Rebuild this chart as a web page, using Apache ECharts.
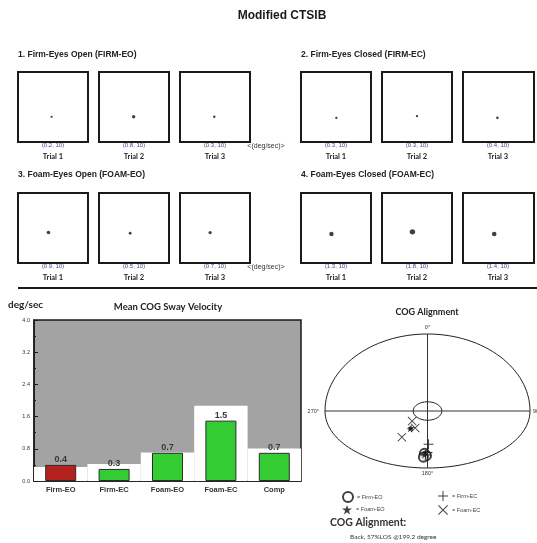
<!DOCTYPE html>
<html>
<head>
<meta charset="utf-8">
<script src="https://cdn.jsdelivr.net/npm/echarts@6/dist/echarts.min.js"></script>
<style>
  html, body { margin: 0; padding: 0; background: #fff; }
  #c { width: 537px; height: 543px; }
</style>
</head>
<body>
<div id="c"></div>
<script>
// ---- test conditions and results ----
const conditions = ['Firm-EO', 'Firm-EC', 'Foam-EO', 'Foam-EC', 'Comp'];
const conditionTitles = [
  '1. Firm-Eyes Open (FIRM-EO)',
  '2. Firm-Eyes Closed (FIRM-EC)',
  '3. Foam-Eyes Open (FOAM-EO)',
  '4. Foam-Eyes Closed (FOAM-EC)'
];
const trialLabels = ['Trial 1', 'Trial 2', 'Trial 3'];
// sway velocity (deg/sec) and trial duration (sec) for each trial
const trialVelocity = [[0.2, 0.8, 0.3], [0.3, 0.3, 0.4], [0.9, 0.5, 0.7], [1.3, 1.8, 1.4]];
const trialSeconds = [[10, 10, 10], [10, 10, 10], [10, 10, 10], [10, 10, 10]];
// mean centre-of-gravity position of each trial (deg)
const swayX = [[-0.4, -0.1, -0.2], [0.1, 0.0, -0.3], [-1.3, -1.1, -1.4], [-1.3, -1.3, -1.2]];
const swayY = [[-2.8, -2.8, -2.8], [-3.1, -2.6, -3.1], [-1.3, -1.5, -1.3], [-1.7, -1.1, -1.7]];
// mean sway velocity per condition and the normal limit above which it is flagged
const meanVelocity = [0.4, 0.3, 0.7, 1.5, 0.7];
const normalLimit = [0.35, 0.42, 0.71, 1.87, 0.81];
// COG alignment (%LOS: x = right, y = forward) for each trial
const cogFirmEO = [[-3, -55], [-1, -58], [-4, -60]];
const cogFirmEC = [[1, -43], [0, -54], [-2, -57]];
const cogFoamEO = [[-17, -23], [-16, -22], [-3, -57]];
const cogFoamEC = [[-15, -13], [-12, -22], [-25, -34]];
const alignmentSummary = 'Back, 57%LOS @199.2 degree';

// ---- drawing ----
const FONT_A = '"Liberation Sans", Arial, sans-serif';
const FONT_B = 'Lato, "Liberation Sans", sans-serif';
const INK = '#1a1a1a';

const grids = [], xAxes = [], yAxes = [], series = [], graphics = [];

function label(text, x, y, opts) {
  graphics.push({
    type: 'text', x: x, y: y, silent: true,
    style: Object.assign({
      text: text, fill: INK, fontFamily: FONT_A, fontSize: 9,
      align: 'left', verticalAlign: 'middle'
    }, opts || {})
  });
}

// page title and divider
label('Modified CTSIB', 282, 16, { fontSize: 12, fontWeight: 'bold', align: 'center' });
graphics.push({ type: 'line', silent: true, shape: { x1: 18, y1: 288, x2: 537, y2: 288 },
  style: { stroke: INK, lineWidth: 2 } });

// stabilogram boxes, three trials per condition
const panelLeft = [18, 301];
const boxOffset = [0, 81, 162];
const rowTop = [72, 193];
const rowTitleY = [55, 175];
const BOX = 70;

trialVelocity.forEach(function (vals, ci) {
  const row = Math.floor(ci / 2), col = ci % 2;
  label(conditionTitles[ci], panelLeft[col], rowTitleY[row], { fontSize: 8.5, fontWeight: 'bold', fill: '#222' });
  vals.forEach(function (v, ti) {
    const g = grids.length;
    const left = panelLeft[col] + boxOffset[ti];
    const top = rowTop[row];
    grids.push({ left: left, top: top, width: BOX + (col && ti === 2 ? 1 : 0), height: BOX, show: true,
      backgroundColor: '#fff', borderColor: INK, borderWidth: 2 });
    xAxes.push({ gridIndex: g, type: 'value', min: -10, max: 10, show: false });
    yAxes.push({ gridIndex: g, type: 'value', min: -10, max: 10, show: false });
    series.push({
      type: 'scatter', xAxisIndex: g, yAxisIndex: g, silent: true,
      data: [[swayX[ci][ti], swayY[ci][ti]]],
      symbolSize: 1.8 + 2 * v,
      itemStyle: { color: '#111' }
    });
    const cx = left + BOX / 2;
    label('(' + v.toFixed(1) + ', ' + trialSeconds[ci][ti] + ')', cx, top + BOX + 3,
      { fontSize: 6, fill: '#3d4d8a', align: 'center' });
    label(trialLabels[ti], cx, top + BOX + 15, { fontSize: 7.5, fontWeight: 'bold', fontFamily: FONT_B, align: 'center', fill: '#222' });
  });
  if (col === 0) {
    label('<(deg/sec)>', 266, rowTop[row] + BOX + 4, { fontSize: 7, align: 'center', fill: '#333' });
  }
});

// ---- mean COG sway velocity bar chart ----
const gBar = grids.length;
grids.push({ left: 34, top: 320, width: 267, height: 161, show: true,
  backgroundColor: '#a3a3a3', borderColor: INK, borderWidth: 1.5 });
const xBar = xAxes.length;
xAxes.push({
  gridIndex: gBar, type: 'category', data: conditions,
  axisLine: { lineStyle: { color: INK, width: 1.5 } },
  axisTick: { alignWithLabel: true, length: 3, lineStyle: { color: INK } },
  axisLabel: { fontSize: 7.5, fontWeight: 'bold', color: '#333', margin: 5, fontFamily: FONT_A }
});
const xLimit = xAxes.length;
xAxes.push({ gridIndex: gBar, type: 'category', data: conditions, show: false });
const yBar = yAxes.length;
yAxes.push({
  gridIndex: gBar, type: 'value', min: 0, max: 4, interval: 0.8,
  axisLine: { show: true, lineStyle: { color: INK, width: 1.5 } },
  axisTick: { show: true, inside: true, length: 4, lineStyle: { color: INK } },
  minorTick: { show: true, splitNumber: 2, length: 2, lineStyle: { color: INK } },
  splitLine: { show: false },
  axisLabel: { fontSize: 5.5, color: '#333', margin: 4, fontFamily: FONT_A,
    formatter: function (v) { return v.toFixed(1); } }
});
series.push({
  type: 'bar', xAxisIndex: xLimit, yAxisIndex: yBar, silent: true, z: 1,
  data: normalLimit, barWidth: '100%', itemStyle: { color: '#fff' }
});
series.push({
  type: 'bar', xAxisIndex: xBar, yAxisIndex: yBar, silent: true, z: 3,
  barWidth: 31,
  data: meanVelocity.map(function (v, i) {
    return { value: v, itemStyle: { color: v > normalLimit[i] ? '#b3221e' : '#33cc33' } };
  }),
  itemStyle: { borderColor: '#2b2b2b', borderWidth: 1 },
  label: { show: true, position: 'top', distance: 1, fontSize: 9, fontWeight: 'bold', color: '#3a3a3a',
    fontFamily: FONT_A, formatter: function (p) { return p.value.toFixed(1); } }
});
label('deg/sec', 8, 305, { fontSize: 10, fontWeight: 'bold', fontFamily: FONT_B, fill: '#222' });
label('Mean COG Sway Velocity', 168, 307, { fontSize: 9.5, fontWeight: 'bold', fontFamily: FONT_B, align: 'center', fill: '#222' });

// ---- COG alignment plot ----
const LOS_SIDE = 100, LOS_FWD = 100, LOS_BACK = 74;
const gCog = grids.length;
grids.push({ left: 325, top: 334, width: 205, height: 134 });
const xCog = xAxes.length;
xAxes.push({ gridIndex: gCog, type: 'value', min: -LOS_SIDE, max: LOS_SIDE, show: false });
const yCog = yAxes.length;
yAxes.push({ gridIndex: gCog, type: 'value', min: -LOS_BACK, max: LOS_FWD, show: false });

const K = 0.5523;
function ellipseCurves(cx, cy, rx, ryTop, ryBottom, style) {
  return [
    [cx + rx, cy, cx, cy - ryTop, cx + rx, cy - K * ryTop, cx + K * rx, cy - ryTop],
    [cx, cy - ryTop, cx - rx, cy, cx - K * rx, cy - ryTop, cx - rx, cy - K * ryTop],
    [cx - rx, cy, cx, cy + ryBottom, cx - rx, cy + K * ryBottom, cx - K * rx, cy + ryBottom],
    [cx, cy + ryBottom, cx + rx, cy, cx + K * rx, cy + ryBottom, cx + rx, cy + K * ryBottom]
  ].map(function (q) {
    return { type: 'bezierCurve', shape: { x1: q[0], y1: q[1], x2: q[2], y2: q[3],
      cpx1: q[4], cpy1: q[5], cpx2: q[6], cpy2: q[7] }, style: style };
  });
}

series.push({
  type: 'custom', xAxisIndex: xCog, yAxisIndex: yCog, silent: true, z: 1,
  data: [[0, 0]],
  renderItem: function (params, api) {
    const c = api.coord([0, 0]);
    const right = api.coord([LOS_SIDE, 0])[0];
    const left = api.coord([-LOS_SIDE, 0])[0];
    const top = api.coord([0, LOS_FWD])[1];
    const bottom = api.coord([0, -LOS_BACK])[1];
    const innerRx = api.coord([14, 0])[0] - c[0];
    const innerRy = c[1] - api.coord([0, 12])[1];
    const st = { stroke: '#222', lineWidth: 1, fill: 'none' };
    const lineSt = { stroke: '#333', lineWidth: 1 };
    const tSt = { fill: '#333', fontSize: 5.5, fontFamily: FONT_A, verticalAlign: 'middle' };
    let children = ellipseCurves(c[0], c[1], right - c[0], c[1] - top, bottom - c[1], st)
      .concat(ellipseCurves(c[0], c[1], innerRx, innerRy, innerRy, st));
    children.push({ type: 'line', shape: { x1: left, y1: c[1], x2: right, y2: c[1] }, style: lineSt });
    children.push({ type: 'line', shape: { x1: c[0], y1: top, x2: c[0], y2: bottom }, style: lineSt });
    children.push({ type: 'text', style: Object.assign({ text: '0°', x: c[0], y: top - 7, align: 'center' }, tSt) });
    children.push({ type: 'text', style: Object.assign({ text: '180°', x: c[0], y: bottom + 5, align: 'center' }, tSt) });
    children.push({ type: 'text', style: Object.assign({ text: '270°', x: left - 6, y: c[1], align: 'right' }, tSt) });
    children.push({ type: 'text', style: Object.assign({ text: '90°', x: right + 3, y: c[1], align: 'left' }, tSt) });
    return { type: 'group', children: children };
  }
});

const PLUS = 'path://M4.5,0H5.5V4.5H10V5.5H5.5V10H4.5V5.5H0V4.5H4.5Z';
const CROSS = 'path://M0.7,0L5,4.3L9.3,0L10,0.7L5.7,5L10,9.3L9.3,10L5,5.7L0.7,10L0,9.3L4.3,5L0,0.7Z';
const STAR = 'path://M5,0L6.2,3.6L10,3.6L6.9,5.8L8.1,9.5L5,7.2L1.9,9.5L3.1,5.8L0,3.6L3.8,3.6Z';
const cogSets = [
  { name: 'Firm-EO', data: cogFirmEO, symbol: 'emptyCircle', size: 9 },
  { name: 'Firm-EC', data: cogFirmEC, symbol: PLUS, size: 10 },
  { name: 'Foam-EO', data: cogFoamEO, symbol: STAR, size: 7 },
  { name: 'Foam-EC', data: cogFoamEC, symbol: CROSS, size: 9 }
];
cogSets.forEach(function (s) {
  series.push({
    type: 'scatter', name: s.name, xAxisIndex: xCog, yAxisIndex: yCog, z: 4, silent: true,
    data: s.data, symbol: s.symbol, symbolSize: s.size,
    itemStyle: { color: '#111', borderColor: '#111', borderWidth: s.symbol === 'emptyCircle' ? 1 : 0 }
  });
});
label('COG Alignment', 427, 312, { fontSize: 9, fontWeight: 'bold', fontFamily: FONT_B, align: 'center', fill: '#222' });

const legendPos = [[337, 486], [433, 486], [337, 500], [433, 500]];
const legends = cogSets.map(function (s, i) {
  return {
    data: [s.name], left: legendPos[i][0], top: legendPos[i][1],
    itemWidth: 10, itemHeight: 10, itemGap: 0, selectedMode: false,
    formatter: '= {name}',
    textStyle: { fontSize: 5.5, color: '#444', fontFamily: FONT_A, padding: [0, 0, 0, -1] }
  };
});
label('COG Alignment:', 330, 523, { fontSize: 10.5, fontWeight: 'bold', fontFamily: FONT_B, fill: '#333' });
label(alignmentSummary, 350, 537, { fontSize: 6.5, fontFamily: FONT_B, fill: '#333' });

const chart = echarts.init(document.getElementById('c'));
chart.setOption({
  animation: false,
  backgroundColor: '#fff',
  grid: grids,
  xAxis: xAxes,
  yAxis: yAxes,
  legend: legends,
  series: series,
  graphic: graphics
});
</script>
</body>
</html>
